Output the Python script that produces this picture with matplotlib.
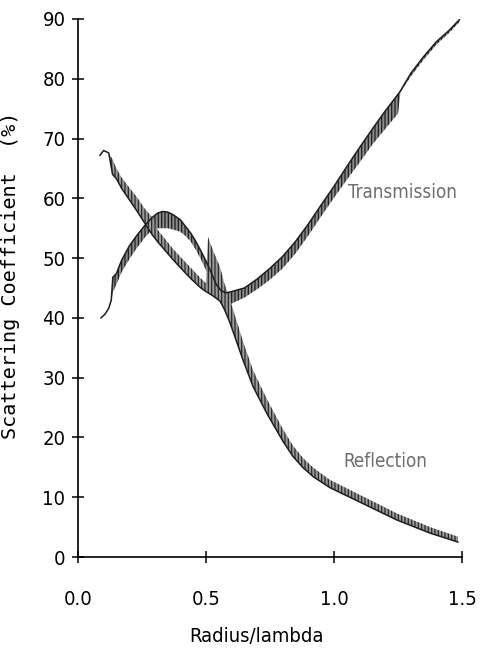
import matplotlib
matplotlib.use("Agg")
import matplotlib.pyplot as plt

# DATA
# transmission band: lower / upper edge of the oscillating trace
trans_x = [0.090, 0.105, 0.120, 0.130, 0.136, 0.150, 0.170, 0.200, 0.230, 0.260,
           0.290, 0.310, 0.330, 0.350, 0.370, 0.400, 0.420, 0.440, 0.460, 0.480,
           0.500, 0.520, 0.540, 0.560, 0.580, 0.600, 0.650, 0.700, 0.750, 0.800,
           0.850, 0.900, 0.950, 1.000, 1.050, 1.100, 1.150, 1.200, 1.250, 1.260,
           1.300, 1.350, 1.400, 1.450, 1.490]
trans_lo = [40.0, 40.6, 41.6, 42.8, 44.3, 45.6, 47.6, 49.8, 51.7, 53.4,
            54.8, 55.0, 55.0, 55.0, 54.8, 54.4, 53.7, 52.8, 51.4, 49.8,
            48.0, 46.0, 43.8, 42.2, 42.0, 42.4, 43.4, 44.8, 46.4, 48.3,
            50.8, 53.8, 57.0, 60.1, 63.1, 66.0, 69.0, 71.6, 74.2, 77.8,
            80.4, 83.2, 85.7, 87.7, 89.5]
trans_hi = [40.0, 40.6, 41.6, 43.0, 46.8, 47.4, 49.6, 52.0, 53.8, 55.4,
            56.8, 57.5, 57.8, 57.7, 57.3, 56.4, 55.3, 54.2, 52.8, 51.2,
            49.5, 47.6, 45.6, 44.5, 44.2, 44.4, 45.0, 46.5, 48.3, 50.3,
            52.8, 55.7, 58.9, 62.0, 65.3, 68.5, 71.6, 74.6, 77.4, 78.0,
            80.9, 83.7, 86.2, 88.1, 89.9]

# reflection band
refl_x = [0.086, 0.100, 0.120, 0.135, 0.150, 0.170, 0.200, 0.230, 0.260, 0.290,
          0.310, 0.340, 0.370, 0.400, 0.440, 0.480, 0.500, 0.508, 0.530, 0.555,
          0.570, 0.590, 0.610, 0.645, 0.684, 0.738, 0.800, 0.840, 0.880, 0.920,
          0.984, 1.110, 1.245, 1.375, 1.484]
refl_lo = [67.2, 68.0, 67.6, 64.0, 63.3, 61.7, 59.8, 57.9, 55.9, 53.9,
           52.8, 51.3, 49.8, 48.4, 46.6, 45.0, 44.4, 44.2, 43.6, 42.8,
           41.6, 39.6, 37.2, 32.9, 28.5, 24.0, 19.4, 16.8, 14.9, 13.4,
           11.6, 9.0, 6.2, 4.0, 2.5]
refl_hi = [67.2, 68.0, 67.6, 66.5, 65.0, 63.5, 61.8, 60.2, 58.3, 56.8,
           54.8, 53.2, 51.6, 50.2, 48.4, 46.6, 45.8, 53.5, 51.0, 48.5,
           46.0, 43.5, 40.8, 36.0, 31.2, 26.4, 21.4, 18.6, 16.5, 14.9,
           12.9, 10.2, 7.3, 5.0, 3.4]

x_ticks = [0.0, 0.5, 1.0, 1.5]
y_ticks = [0, 10, 20, 30, 40, 50, 60, 70, 80, 90]

plt.rcParams["hatch.linewidth"] = 0.9

fig = plt.figure(figsize=(4.89, 6.52), dpi=100)
ax = fig.add_axes([0.1595, 0.1457, 0.7853, 0.8252])

# bands drawn as vertical hatching like the plotter trace
ax.fill_between(trans_x, trans_lo, trans_hi, facecolor="#8a8a8a",
                edgecolor="#1e1e1e", hatch="|||||", linewidth=0)
ax.fill_between(refl_x, refl_lo, refl_hi, facecolor="#9a9a9a",
                edgecolor="#2a2a2a", hatch="|||||", linewidth=0)
ax.plot(trans_x, trans_hi, color="#1e1e1e", lw=1.1)
ax.plot(refl_x, refl_lo, color="#1e1e1e", lw=1.1)

ax.text(1.055, 61.0, "Transmission", fontsize=13.5, stretch="condensed",
        color="#6e6e6e", va="center", ha="left")
ax.text(1.035, 15.9, "Reflection", fontsize=13.5, stretch="condensed",
        color="#6e6e6e", va="center", ha="left")

ax.set_xlim(0, 1.5)
ax.set_ylim(0, 90)
ax.set_xticks(x_ticks)
ax.set_xticklabels(["%.1f" % v for v in x_ticks])
ax.set_yticks(y_ticks)
ax.set_yticklabels([str(v) for v in y_ticks])
for lab in ax.get_xticklabels() + ax.get_yticklabels():
    lab.set_stretch("condensed")
    lab.set_fontsize(14.5)

ax.tick_params(axis="x", direction="inout", length=8, width=1.1, pad=20)
ax.tick_params(axis="y", direction="inout", length=8, width=1.1, pad=5)

for s in ["top", "right"]:
    ax.spines[s].set_visible(False)
for s in ["left", "bottom"]:
    ax.spines[s].set_linewidth(1.2)

ax.set_xlabel("Radius/lambda", fontsize=14.5, stretch="condensed")
ax.xaxis.set_label_coords(0.464, -0.131)
ax.set_ylabel("Scattering Coefficient  (%)", fontsize=14.5, family="DejaVu Sans Mono")
ax.yaxis.set_label_coords(-0.151, 0.524)

fig.savefig("out.png", dpi=100)
